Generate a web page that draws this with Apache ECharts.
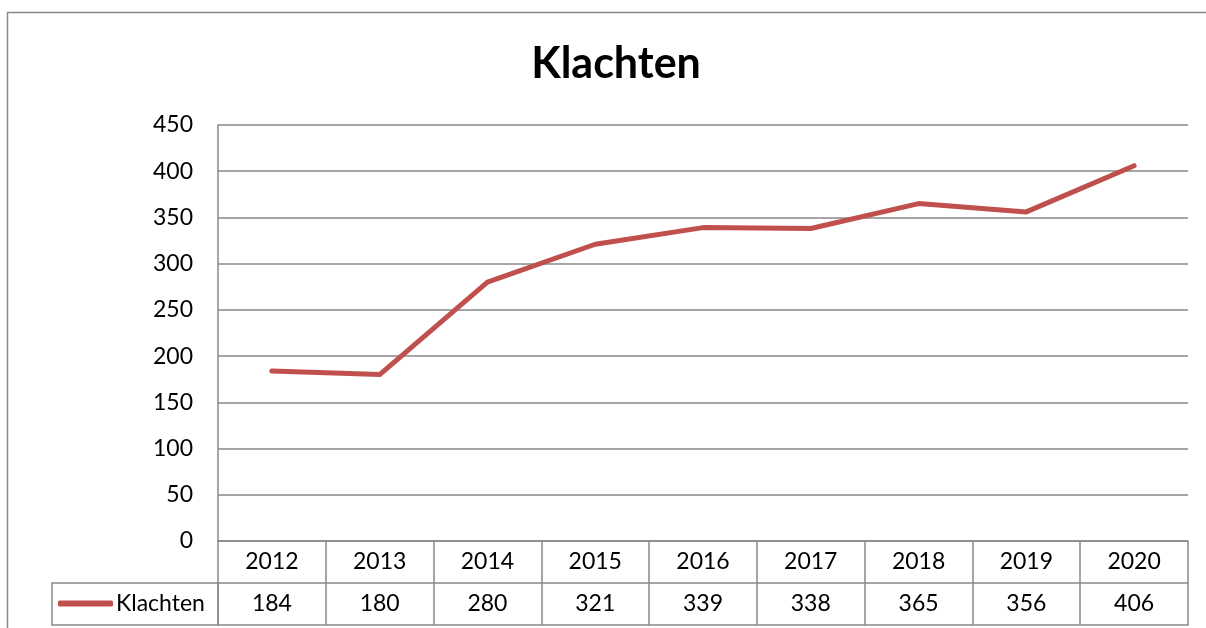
<!DOCTYPE html>
<html>
<head>
<meta charset="utf-8">
<script src="https://cdn.jsdelivr.net/npm/echarts@6/dist/echarts.min.js"></script>
<style>
    html, body { margin: 0; padding: 0; background: #fff; }
    #chart1 { width: 1206px; height: 628px; }
</style>
</head>
<body>
<div id="chart1"></div>
<script>
var years = ["2012", "2013", "2014", "2015", "2016", "2017", "2018", "2019", "2020"];
var klachten = [184, 180, 280, 321, 339, 338, 365, 356, 406];
var yTicks = { min: 0, max: 450, interval: 50 };

var lineColor = "#898989";
var font = "Lato, 'Open Sans', sans-serif";

var line_option = {
    animation: false,
    backgroundColor: "#fff",
    title: {
        text: "Klachten",
        left: 611,
        textAlign: "center",
        top: 38,
        textStyle: {
            fontFamily: font,
            fontWeight: "bold",
            fontSize: 43,
            color: "#000"
        }
    },
    graphic: [
        {
            type: "rect",
            shape: { x: 7.5, y: 12.5, width: 1220, height: 640 },
            style: { fill: null, stroke: lineColor, lineWidth: 1.5 },
            silent: true
        }
    ],
    legend: {
        data: [{ name: "Klachten", icon: "roundRect" }],
        left: 58,
        top: 592,
        padding: 0,
        itemWidth: 55,
        itemHeight: 6,
        itemStyle: { color: "#C0504D" },
        textStyle: {
            fontFamily: font,
            fontSize: 23,
            color: "#000",
            padding: [0, 0, 0, -2]
        }
    },
    grid: [
        { left: 218, right: 18, top: 125, bottom: 87 },
        {
            left: 52, top: 583, width: 166, height: 42,
            show: true, borderColor: lineColor, borderWidth: 1.5,
            backgroundColor: "transparent"
        }
    ],
    xAxis: [
        {
            type: "category",
            gridIndex: 0,
            data: years,
            boundaryGap: true,
            axisLine: { show: true, lineStyle: { color: lineColor, width: 1.5 } },
            axisTick: { show: true, length: 42, interval: 0, lineStyle: { color: lineColor, width: 1.5 } },
            axisLabel: { margin: 9, fontFamily: font, fontSize: 23, color: "#000" },
            splitLine: { show: false }
        },
        {
            type: "category",
            gridIndex: 0,
            position: "bottom",
            offset: 42,
            data: klachten.map(String),
            boundaryGap: true,
            axisLine: { show: true, lineStyle: { color: lineColor, width: 1.5 } },
            axisTick: { show: true, length: 42, interval: 0, lineStyle: { color: lineColor, width: 1.5 } },
            axisLabel: { margin: 9, fontFamily: font, fontSize: 23, color: "#000" }
        },
        {
            type: "category",
            gridIndex: 0,
            position: "bottom",
            offset: 84,
            data: years,
            axisLine: { show: true, lineStyle: { color: lineColor, width: 1.5 } },
            axisTick: { show: false },
            axisLabel: { show: false }
        },
        { type: "value", gridIndex: 1, show: false }
    ],
    yAxis: [
        {
            type: "value",
            gridIndex: 0,
            min: yTicks.min,
            max: yTicks.max,
            interval: yTicks.interval,
            axisLine: { show: true, lineStyle: { color: lineColor, width: 1.5 } },
            axisTick: { show: false },
            axisLabel: { margin: 25, fontFamily: font, fontSize: 23, color: "#000" },
            splitLine: { show: true, lineStyle: { color: lineColor, width: 1.5 } }
        },
        { type: "value", gridIndex: 1, show: false }
    ],
    series: [
        {
            name: "Klachten",
            type: "line",
            xAxisIndex: 0,
            yAxisIndex: 0,
            data: klachten,
            symbol: "none",
            showSymbol: false,
            lineStyle: { color: "#C0504D", width: 5, cap: "round", join: "round" },
            itemStyle: { color: "#C0504D" }
        }
    ]
};

var echart_1 = echarts.init(document.getElementById('chart1'));
echart_1.setOption(line_option);
</script>
</body>
</html>
